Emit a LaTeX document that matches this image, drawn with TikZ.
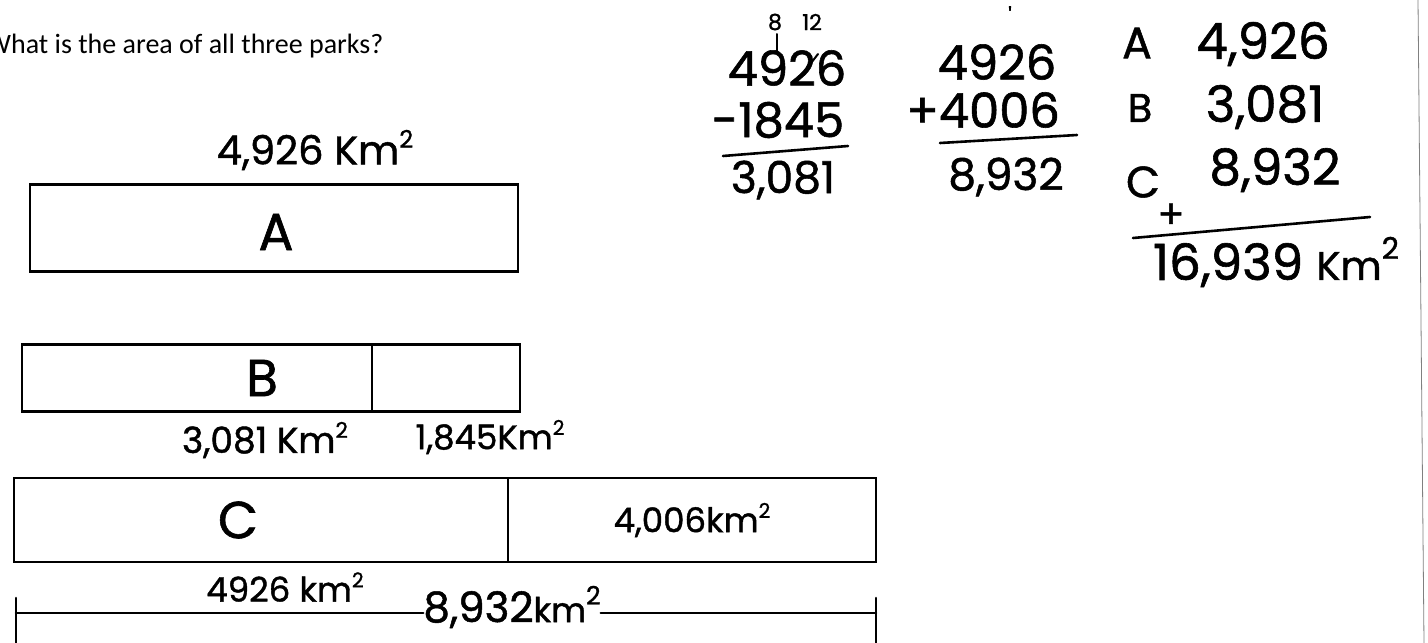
\documentclass[tikz,border=0pt]{standalone}
\usepackage{fontspec}
\setmainfont{Carlito}
\newfontfamily\hand{Poppins}[FakeBold=1.2]
\usepackage{tikz}
\usetikzlibrary{positioning}
\newcommand\sqr{\raisebox{0.42em}{\scalebox{0.6}{2}}}

\begin{document}
\begin{tikzpicture}[
  x=1pt, y=-1pt,
  bar/.style={draw, line width=2.6pt, inner sep=0pt, minimum height=#1},
  hand/.style={font=\hand\fontsize{#1}{#1}\selectfont, inner sep=0pt},
  stroke/.style={line width=2.6pt, line cap=round}
]
\useasboundingbox (0,0) rectangle (1428,643);
\clip (0,0) rectangle (1428,643);

% question
\node[font=\fontsize{28}{32}\selectfont, anchor=base west, inner sep=0pt]
  (quest) at (-14,53) {What is the area of all three parks?};

% park A
\node[hand=40] (areaA) at (315,150) {4,926 Km\sqr};
\node[bar=87pt, minimum width=488pt] (boxA) at (274,228) {};
\node[hand=52] (labA) at (276,232) {A};

% park B
\node[bar=67pt, minimum width=350pt] (boxB) at (197,378) {};
\node[bar=67pt, minimum width=148pt] (boxBx) at (446,378) {};
\node[hand=52] (labB) at (262,378) {B};
\node[hand=36] (areaB) at (265,440) {3,081 Km\sqr};
\node[hand=34] (areaBx) at (490,437) {1,845Km\sqr};

% park C
\node[bar=84pt, minimum width=494pt] (boxC) at (261,520) {};
\node[bar=84pt, minimum width=368pt, hand=34] (boxCx) at (692,520) {4,006km\sqr};
\node[hand=52] (labC) at (238,520) {C};
\node[hand=34] (areaC) at (285,587) {4926 km\sqr};

% total of C
\node[hand=42] (totC) at (512,607) {8,932{\fontsize{34}{34}\selectfont km}\sqr};
\coordinate (brL) at (16,613);
\coordinate (brR) at (876,613);
\draw[stroke] (brL) -- (totC.west |- brL);
\draw[stroke] (totC.east |- brR) -- (brR);
\draw[stroke] (16,598) -- (16,650);
\draw[stroke] (876,598) -- (876,650);

% subtraction
\node[hand=22] (regr8) at (775,22) {8};
\node[hand=22] (regr12) at (812,22) {12};
\node[hand=48] (subTop) at (787,68) {4926};
\draw[stroke, line width=2pt] (777,34) -- (777,52);
\draw[stroke, line width=2pt] (795,84) -- (818,54);
\node[hand=48] (subBot) at (778,120) {-1845};
\draw[stroke] (723,156) -- (848,146);
\node[hand=44] (subRes) at (783,180) {3,081};

% addition
\node[hand=22] (carry) at (1010,15) {'};
\node[hand=48] (addTop) at (997,62) {4926};
\node[hand=48] (addBot) at (983,110) {+4006};
\draw[stroke] (940,143) -- (1077,135);
\node[hand=44] (addRes) at (1006,177) {8,932};

% all three parks
\node[hand=44] (sumA) at (1137,43) {A};
\node[hand=50] (valA) at (1263,44) {4,926};
\node[hand=40] (sumB) at (1140,108) {B};
\node[hand=50] (valB) at (1265,107) {3,081};
\node[hand=44] (sumC) at (1143,182) {C};
\node[hand=50] (valC) at (1275,170) {8,932};
\node[hand=40] (plus) at (1171,216) {+};
\draw[stroke] (1133,238) -- (1370,217);
\node[hand=50] (total) at (1276,262) {16,939 {\fontsize{40}{40}\selectfont Km}\sqr};

% page edge
\draw[gray, line width=0.8pt] (1418,0) -- (1424,643);
\end{tikzpicture}
\end{document}
